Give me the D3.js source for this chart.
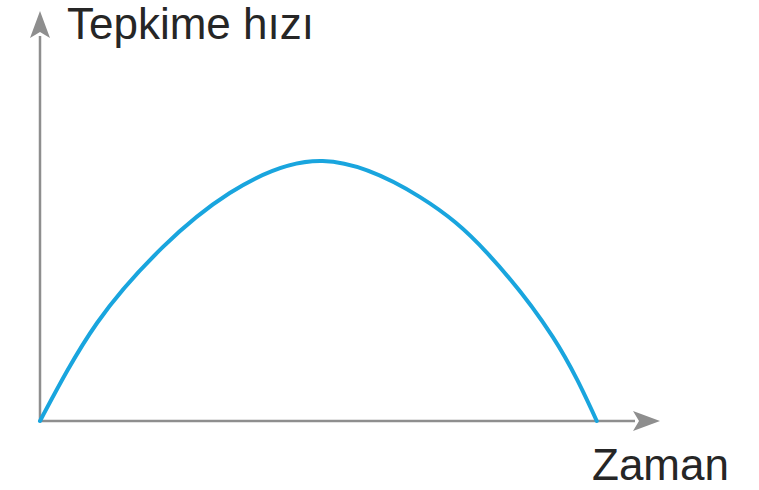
<!DOCTYPE html>
<html>
<head>
<meta charset="utf-8">
<script src="https://cdn.jsdelivr.net/npm/d3@7"></script>
<style>
  html, body { margin: 0; padding: 0; background: #fff; }
  svg { display: block; }
</style>
</head>
<body>
<svg id="chart" width="759" height="490"></svg>
<script>
// ===== Data =====
const timeValues = [0, 0.92, 1.98, 3.06, 4.56, 6.13, 7.21, 8.27, 8.98];
const rateValues = [0, 2.39, 4.24, 5.56, 6.34, 5.46, 4.10, 2.05, 0];
const yLabel = 'Tepkime hızı';
const xLabel = 'Zaman';

const points = timeValues.map((t, i) => ({ t, r: rateValues[i] }));

const svg = d3.select('#chart');
const axisColor = '#8e8e8e';
const textColor = '#262626';

// Axis origin at (40, 421); x arrow tip at 660, y arrow tip at 11
const x = d3.scaleLinear().domain([0, 10]).range([40, 660]);
const y = d3.scaleLinear().domain([0, 10]).range([421, 11]);

const arrowLen = 27;
const arrowHalf = 10;

// ----- Axes -----
svg.append('line')
    .attr('x1', x(0)).attr('y1', y(0))
    .attr('x2', x(0)).attr('y2', y(10) + arrowLen - 2)
    .style('stroke', axisColor).style('stroke-width', '2.5px');

svg.append('line')
    .attr('x1', x(0)).attr('y1', y(0))
    .attr('x2', x(10) - arrowLen + 2).attr('y2', y(0))
    .style('stroke', axisColor).style('stroke-width', '2.5px');

// Arrowheads (slightly concave like the original)
const yTip = [x(0), y(10)];
svg.append('path')
    .attr('d', `M ${yTip[0]} ${yTip[1]}
                L ${yTip[0] + arrowHalf} ${yTip[1] + arrowLen}
                L ${yTip[0]} ${yTip[1] + arrowLen - 6}
                L ${yTip[0] - arrowHalf} ${yTip[1] + arrowLen} Z`)
    .style('fill', axisColor);

const xTip = [x(10), y(0)];
svg.append('path')
    .attr('d', `M ${xTip[0]} ${xTip[1]}
                L ${xTip[0] - arrowLen} ${xTip[1] - arrowHalf}
                L ${xTip[0] - arrowLen + 6} ${xTip[1]}
                L ${xTip[0] - arrowLen} ${xTip[1] + arrowHalf} Z`)
    .style('fill', axisColor);

// ----- Curve -----
const line = d3.line()
    .x(d => x(d.t))
    .y(d => y(d.r))
    .curve(d3.curveNatural);

svg.append('path')
    .datum(points)
    .attr('d', line)
    .style('fill', 'none')
    .style('stroke', '#19a5de')
    .style('stroke-width', '4px')
    .style('stroke-linecap', 'round');

// ----- Labels -----
svg.append('text')
    .attr('x', 67).attr('y', 39)
    .style('font-family', '"Liberation Sans", Arial, Helvetica, sans-serif')
    .style('font-size', '44px')
    .style('fill', textColor)
    .text(yLabel);

svg.append('text')
    .attr('x', 592).attr('y', 480)
    .style('font-family', '"Liberation Sans", Arial, Helvetica, sans-serif')
    .style('font-size', '44px')
    .style('fill', textColor)
    .text(xLabel);
</script>
</body>
</html>
